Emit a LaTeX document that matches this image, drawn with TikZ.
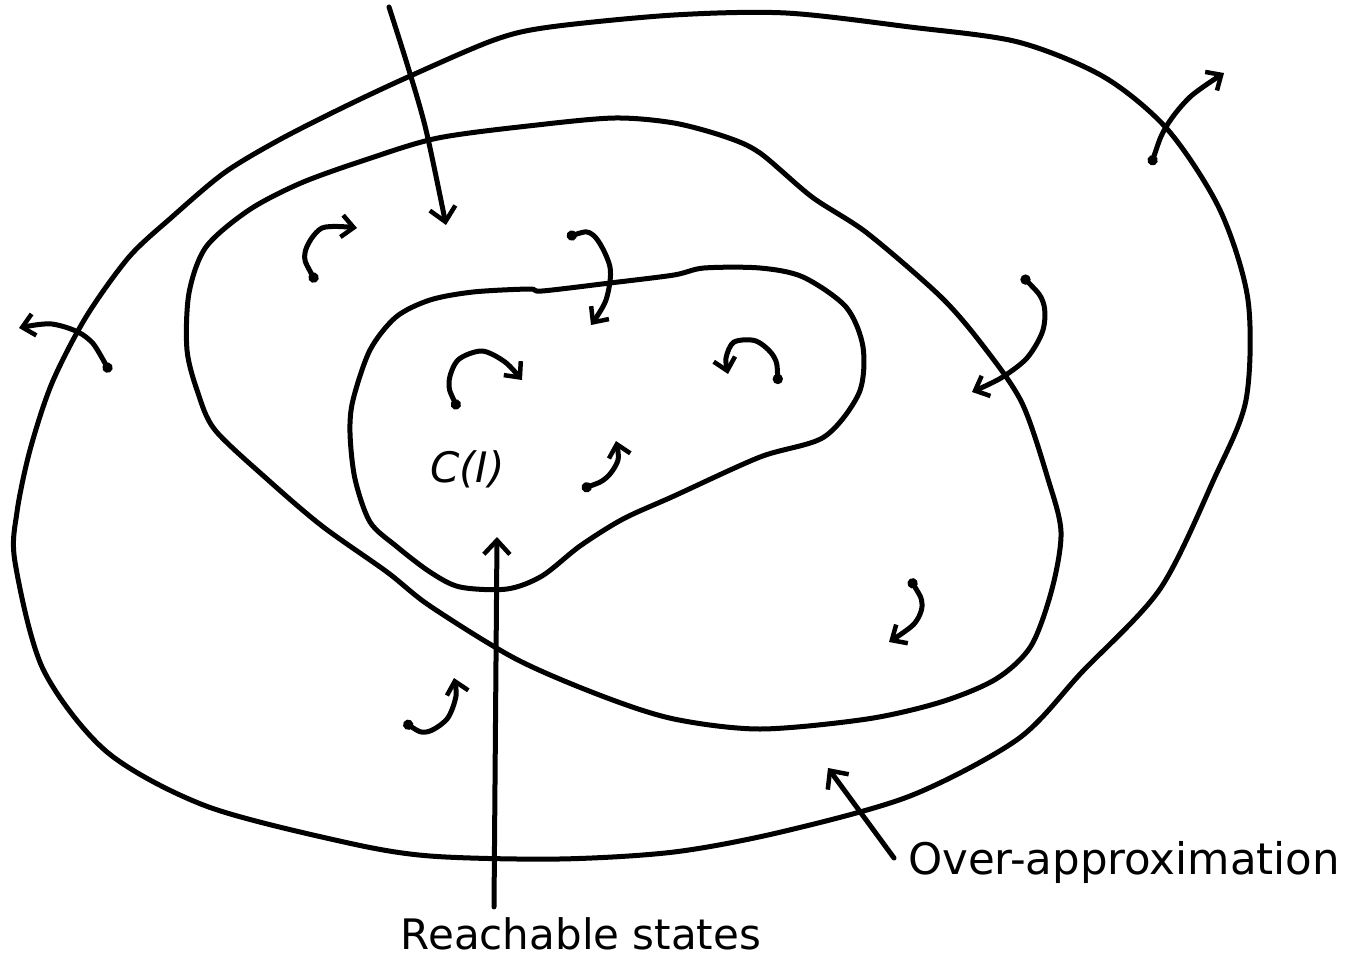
\documentclass[tikz,border=0pt]{standalone}
\usepackage{fontspec}
\setmainfont{DejaVu Sans}
\usetikzlibrary{arrows.meta}
\begin{document}
\begin{tikzpicture}[x=1pt,y=-1pt,
  curve/.style={line width=5pt, line join=round, line cap=round},
  headtip/.style={-{Straight Barb[length=14pt,width=26pt,line width=4.5pt]}},
  smallarr/.style={curve, {Circle[length=10pt]}-{Straight Barb[length=12pt,width=22pt,line width=4.5pt]}},
  lbl/.style={font=\fontsize{42}{50}\selectfont, inner sep=0pt}]
\useasboundingbox (0,0) rectangle (1348,958);
% outer region
\draw[curve] plot[smooth cycle] coordinates {(674,15) (786,13) (910,27) (1018,42) (1104,77) (1168,130) (1220,210) (1248,300) (1246,400) (1214,479) (1160,589) (1082,672) (1018,739) (910,796) (781,832) (674,852) (559,859) (430,856) (344,842) (206,806) (107,752) (43,669) (15,562) (17,512) (30,450) (52,383) (86,317) (129,257) (172,217) (224,173) (279,140) (344,107) (408,77) (494,40) (550,27)};
% middle region
\draw[curve] plot[smooth cycle] coordinates {(674,123) (726,137) (760,153) (812,197) (867,233) (941,297) (984,347) (1022,403) (1048,479) (1061,532) (1052,589) (1031,646) (996,679) (941,702) (867,719) (760,729) (674,719) (602,696) (516,659) (430,606) (387,572) (322,526) (267,479) (215,430) (198,393) (187,350) (189,293) (206,247) (249,210) (301,183) (365,160) (438,138) (537,125) (615,118)};
% inner region
\draw[curve] plot[smooth cycle] coordinates {(674,275) (704,268) (760,268) (803,277) (846,307) (863,347) (859,393) (824,437) (760,457) (674,496) (623,519) (580,546) (542,576) (507,589) (460,587) (430,572) (396,546) (370,522) (355,479) (350,433) (353,400) (370,350) (396,317) (430,300) (473,292) (529,289) (542,291) (610,283)};
% labels
\node[lbl, anchor=base] (rs) at (581,949) {Reachable states};
\node[lbl, anchor=base west, font=\fontsize{43.5}{50}\selectfont] (oa) at (908,874) {Over-approximation};
\node[lbl, anchor=base west] (ci) at (430,482) {\itshape C(I)};
% labelled arrows
\coordinate (rstip) at (497,537);
\coordinate (oatip) at (828,768);
\draw[curve, headtip] (rs.north -| 494,0) ++(0,-10) -- (rstip);
\draw[curve, headtip] (oa.west) ++(-14,-4) -- (oatip);
% incoming arrow from top
\draw[curve, headtip] plot[smooth] coordinates {(389,7) (408,67) (426,130) (446,225)};
% small transition arrows
\draw[smallarr] plot[smooth] coordinates {(316,282) (305,253) (322,228) (357,228)};
\draw[smallarr] plot[smooth] coordinates {(567,237) (593,235) (610,267) (606,300) (591,325)};
\draw[smallarr] plot[smooth] coordinates {(110,372) (86,337) (52,324) (19,328)};
\draw[smallarr] plot[smooth] coordinates {(458,409) (449,383) (458,360) (482,351) (505,362) (522,380)};
\draw[smallarr] plot[smooth] coordinates {(582,489) (606,478) (618,460) (616,441)};
\draw[smallarr] plot[smooth] coordinates {(778,384) (774,357) (756,341) (734,342) (726,358) (728,374)};
\draw[smallarr] plot[smooth] coordinates {(1151,165) (1166,127) (1190,97) (1224,73)};
\draw[smallarr] plot[smooth] coordinates {(1022,276) (1043,302) (1043,330) (1027,358) (1001,378) (972,392)};
\draw[smallarr] plot[smooth] coordinates {(910,579) (922,604) (914,624) (889,642)};
\draw[smallarr] plot[smooth] coordinates {(404,722) (426,732) (447,719) (456,696) (454,678)};
\end{tikzpicture}
\end{document}
